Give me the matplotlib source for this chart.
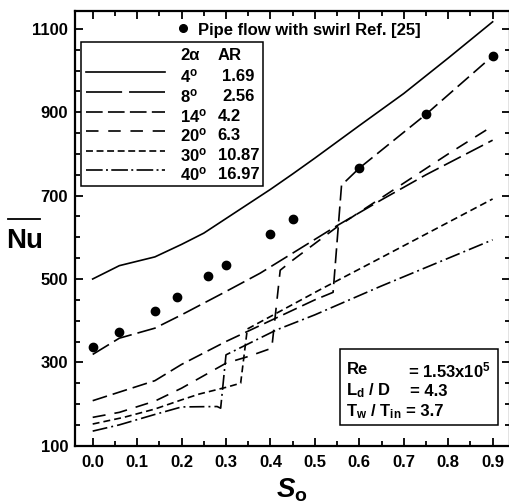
import matplotlib
matplotlib.use("Agg")
import matplotlib.pyplot as plt
from matplotlib.lines import Line2D
from matplotlib.patches import Rectangle
from matplotlib.ticker import MultipleLocator, FormatStrFormatter

plt.rcParams.update({
    "font.family": "Liberation Sans",
    "font.weight": "bold",
    "mathtext.fontset": "custom",
    "mathtext.rm": "Liberation Sans:bold",
    "mathtext.it": "Liberation Sans:italic:bold",
    "mathtext.bf": "Liberation Sans:bold",
    "lines.scale_dashes": False,
})

# swirl number vs mean Nusselt number for each divergence angle
so_4 = [0, 0.06, 0.14, 0.2, 0.25, 0.3, 0.35, 0.4, 0.45, 0.5, 0.6, 0.7, 0.8, 0.9]
nu_4 = [500, 532, 553, 583, 610, 645, 680, 715, 752, 790, 868, 945, 1030, 1117]

so_8 = [0, 0.06, 0.14, 0.2, 0.3, 0.377, 0.45, 0.55, 0.65, 0.75, 0.9]
nu_8 = [319, 358, 382, 414, 470, 514, 562, 628, 690, 750, 833]

so_14 = [0, 0.07, 0.14, 0.2, 0.3, 0.4, 0.5, 0.541, 0.56, 0.6, 0.75, 0.9]
nu_14 = [208, 232, 256, 295, 350, 400, 450, 468, 725, 766, 895, 1035]

so_20 = [0, 0.06, 0.14, 0.2, 0.3, 0.35, 0.403, 0.422, 0.45, 0.55, 0.6, 0.7, 0.8, 0.9]
nu_20 = [168, 180, 207, 238, 298, 314, 334, 521, 545, 625, 660, 730, 800, 867]

so_30 = [0, 0.07, 0.14, 0.2, 0.24, 0.3, 0.333, 0.348, 0.4, 0.511, 0.647, 0.9]
nu_30 = [152, 168, 188, 210, 224, 240, 250, 380, 410, 474, 550, 692]

so_40 = [0, 0.06, 0.14, 0.2, 0.28, 0.288, 0.3, 0.414, 0.5, 0.647, 0.9]
nu_40 = [135, 150, 175, 193, 194, 190, 318, 378, 414, 482, 594]

# pipe flow with swirl, Ref. [25]
so_pipe = [0, 0.06, 0.14, 0.19, 0.26, 0.3, 0.4, 0.45, 0.6, 0.75, 0.9]
nu_pipe = [338, 374, 424, 457, 506, 533, 607, 645, 766, 895, 1035]

angles = ["4", "8", "14", "20", "30", "40"]
area_ratios = ["1.69", "2.56", "4.2", "6.3", "10.87", "16.97"]

W, H = 509, 504


def fx(x):
    return x / W


def fy(y):
    return 1 - y / H


series = [
    (so_4, nu_4, None),
    (so_8, nu_8, (0, (13.7, 4.3))),
    (so_14, nu_14, (0, (10.8, 4.3))),
    (so_20, nu_20, (0, (9.4, 6.5))),
    (so_30, nu_30, (0, (5.0, 2.9))),
    (so_40, nu_40, (0, (10.8, 2.9, 1.4, 2.9))),
]
# key samples in the legend box use a stretched long dash for 8 deg
key_styles = [None, (0, (26.0, 5.0)), (0, (12.0, 3.8)), (0, (9.0, 7.0)),
              (0, (5.0, 2.6)), (0, (12.0, 2.4, 1.4, 2.4))]

fig = plt.figure(figsize=(W / 100, H / 100), dpi=100)
ax = fig.add_axes([fx(75), fy(445.7), (509.5 - 75) / W, (445.7 - 11) / H])

for so, nu, ds in series:
    ax.plot(so, nu, color="black", lw=1.2, linestyle="-" if ds is None else ds)

ax.plot(so_pipe, nu_pipe, "o", color="black", ms=6, zorder=5)

ax.set_xlim(-0.0398, 0.938)
ax.set_ylim(100, 1143)
ax.xaxis.set_major_locator(MultipleLocator(0.1))
ax.xaxis.set_minor_locator(MultipleLocator(0.05))
ax.xaxis.set_major_formatter(FormatStrFormatter("%.1f"))
ax.set_yticks([100, 300, 500, 700, 900, 1100])
ax.yaxis.set_minor_locator(MultipleLocator(50))
ax.tick_params(which="both", direction="in", top=True, right=True,
               width=1.3, labelsize=12)
ax.tick_params(which="major", length=6)
ax.tick_params(which="minor", length=3.5)
ax.tick_params(axis="x", pad=7)
ax.tick_params(axis="y", pad=5)
for s in ax.spines.values():
    s.set_linewidth(1.6)

# axis titles
fig.text(fx(25), fy(241), "Nu", fontsize=20, ha="center", va="center")
fig.add_artist(Line2D([fx(8), fx(40)], [fy(218.5), fy(218.5)], color="black", lw=1.3))
fig.text(fx(292), fy(490), r"$S_{\mathrm{o}}$", fontsize=20, ha="center", va="center")

# reference data marker label
fig.add_artist(Line2D([fx(183)], [fy(27.5)], marker="o", color="black", ms=5.5))
fig.text(fx(198), fy(31), "Pipe flow with swirl Ref. [25]", fontsize=12,
         ha="left", va="center")

# legend box
fig.add_artist(Rectangle((fx(81), fy(186)), (263 - 81) / W, (186 - 42) / H,
                         transform=fig.transFigure, facecolor="white",
                         edgecolor="black", lw=1.1, zorder=6))
fig.text(fx(180), fy(56), "2\u03b1", fontsize=12, va="center", zorder=7)
fig.text(fx(218), fy(56), "AR", fontsize=12, va="center", zorder=7)
row_y = [71.7, 91.7, 111.7, 131, 150.7, 170]
ar_x = [221.7, 222, 217.7, 217.7, 218, 218]
for y, ang, ar, ax_, ks in zip(row_y, angles, area_ratios, ar_x, key_styles):
    fig.add_artist(Line2D([fx(86), fx(165)], [fy(y), fy(y)], color="black", lw=1.2,
                          linestyle="-" if ks is None else ks, zorder=7))
    fig.text(fx(180), fy(y + 4.5), ang + r"$^{\mathrm{o}}$", fontsize=12,
             va="center", zorder=7)
    fig.text(fx(ax_), fy(y + 4.5), ar, fontsize=12, va="center", zorder=7)

# flow conditions box
fig.add_artist(Rectangle((fx(340), fy(425)), (498 - 340) / W, (425 - 349.3) / H,
                         transform=fig.transFigure, facecolor="white",
                         edgecolor="black", lw=1.1, zorder=6))
fig.text(fx(346.5), fy(370), "Re", fontsize=12, va="center", zorder=7)
fig.text(fx(408), fy(370), r"= 1.53x10$^{5}$", fontsize=12, va="center", zorder=7)
fig.text(fx(346.5), fy(391), r"L$_{\mathrm{d}}$ / D", fontsize=12, va="center", zorder=7)
fig.text(fx(410), fy(391), "= 4.3", fontsize=12, va="center", zorder=7)
fig.text(fx(346.5), fy(412), r"T$_{\mathrm{w}}$ / T$_{\mathrm{in}}$", fontsize=12,
         va="center", zorder=7)
fig.text(fx(405.5), fy(412), "= 3.7", fontsize=12, va="center", zorder=7)

fig.savefig("out.png", dpi=100)
